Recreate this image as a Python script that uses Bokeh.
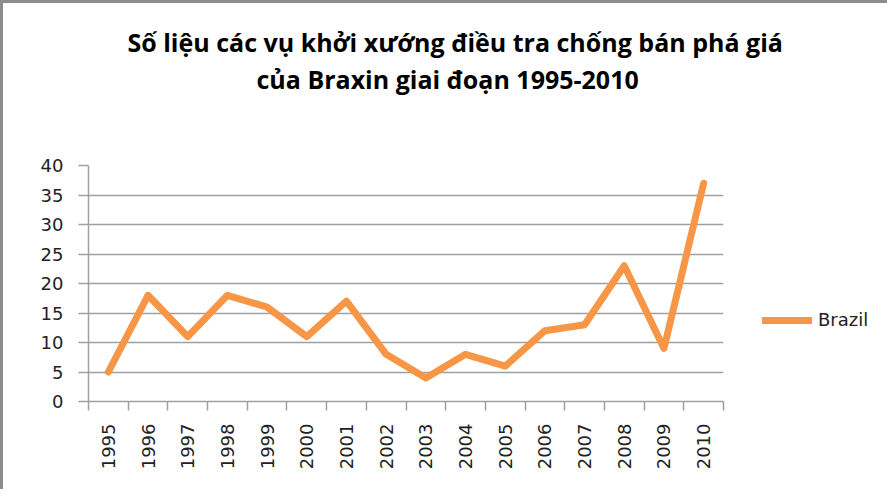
import math
from bokeh.plotting import figure
from bokeh.models import Range1d, FixedTicker, Legend, LegendItem, ColumnDataSource, Title
from bokeh.embed import file_html
from bokeh.resources import INLINE

# ---- data ----
years = ["1995", "1996", "1997", "1998", "1999", "2000", "2001", "2002",
         "2003", "2004", "2005", "2006", "2007", "2008", "2009", "2010"]
cases = [5, 18, 11, 18, 16, 11, 17, 8, 4, 8, 6, 12, 13, 23, 9, 37]
y_ticks = [0, 5, 10, 15, 20, 25, 30, 35, 40]
series_name = "Brazil"
title_lines = ["Số liệu các vụ khởi xướng điều tra chống bán phá giá",
               "của Braxin giai đoạn 1995-2010"]

x_pos = [i + 0.5 for i in range(len(years))]
x_bounds = list(range(len(years) + 1))

source = ColumnDataSource(data=dict(x=x_pos, y=cases, year=years))

GRAY = "#a0a0a0"
FONT = "DejaVu Sans"

p = figure(frame_width=635, frame_height=236, output_backend="svg", toolbar_location=None,
           x_range=Range1d(0, len(years)), y_range=Range1d(y_ticks[0], y_ticks[-1]),
           min_border_left=85, min_border_right=150, min_border_top=162,
           min_border_bottom=88)
p.styles = {"border-left": "3px solid #8c8c8c", "border-top": "3px solid #8c8c8c"}

# titles, stacked upward from the plot: a blank spacer, then line 2, then line 1
spacer = Title(text=" ", align="left", standoff=67, text_font_size="1px")
t2 = Title(text=title_lines[1], align="left", offset=168, standoff=0,
           text_font="Open Sans", text_font_style="bold", text_font_size="25px",
           text_color="#000000")
t1 = Title(text=title_lines[0], align="left", offset=39, standoff=2,
           text_font="Open Sans", text_font_style="bold", text_font_size="25px",
           text_color="#000000")
p.add_layout(spacer, "above")
p.add_layout(t2, "above")
p.add_layout(t1, "above")

p.outline_line_color = None
p.background_fill_color = "white"
p.border_fill_color = "white"

# y axis
p.yaxis.ticker = FixedTicker(ticks=y_ticks)
p.yaxis.major_tick_out = 10
p.yaxis.major_tick_in = 0
p.yaxis.minor_tick_out = 0
p.yaxis.major_tick_line_color = GRAY
p.yaxis.axis_line_color = GRAY
p.yaxis.axis_line_width = 1.5
p.yaxis.major_tick_line_width = 1.5
p.yaxis.major_label_text_font = FONT
p.yaxis.major_label_text_font_size = "18px"
p.yaxis.major_label_text_color = "#222222"
p.yaxis.major_label_standoff = 15

# x axis: labels at category centres, ticks at category boundaries
p.xaxis.ticker = FixedTicker(ticks=x_pos, minor_ticks=x_bounds)
p.xaxis.major_label_overrides = {x: y for x, y in zip(x_pos, years)}
p.xaxis.major_tick_out = 0
p.xaxis.major_tick_in = 0
p.xaxis.minor_tick_out = 9
p.xaxis.minor_tick_in = 0
p.xaxis.minor_tick_line_color = GRAY
p.xaxis.minor_tick_line_width = 1.5
p.xaxis.axis_line_color = GRAY
p.xaxis.axis_line_width = 1.5
p.xaxis.major_label_orientation = math.pi / 2
p.xaxis.major_label_text_font = FONT
p.xaxis.major_label_text_font_size = "18px"
p.xaxis.major_label_text_color = "#222222"
p.xaxis.major_label_standoff = 13

# grid
p.xgrid.visible = False
p.ygrid.ticker = FixedTicker(ticks=y_ticks)
p.ygrid.grid_line_color = GRAY
p.ygrid.grid_line_width = 1.5

r = p.line("x", "y", source=source, line_color="#F79646", line_width=7,
           line_cap="round", line_join="round")

legend = Legend(items=[LegendItem(label=series_name, renderers=[r])],
                location=(39, 71), border_line_color=None,
                background_fill_alpha=0, padding=0, margin=0,
                glyph_width=50, glyph_height=20, label_height=20,
                label_standoff=6, label_text_font=FONT,
                label_text_font_size="18px", label_text_color="#222222")
p.add_layout(legend, "right")

open("out.html", "w").write(file_html(p, INLINE))
